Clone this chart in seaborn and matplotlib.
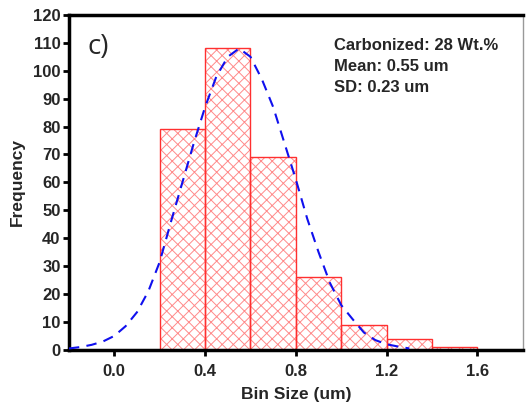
import matplotlib
matplotlib.use("Agg")
import matplotlib.pyplot as plt
import seaborn as sns
import numpy as np
import pandas as pd

# histogram data
bin_edges = [0.2, 0.4, 0.6, 0.8, 1.0, 1.2, 1.4, 1.6]
counts = [79, 108, 69, 26, 9, 4, 1]

# fitted curve
curve_x = [-0.2, -0.15, -0.1, -0.05, 0.0, 0.05, 0.1, 0.15, 0.2, 0.25, 0.3, 0.35,
           0.4, 0.45, 0.5, 0.55, 0.6, 0.65, 0.7, 0.75, 0.8, 0.85, 0.9, 0.95,
           1.0, 1.05, 1.1, 1.15, 1.2, 1.25, 1.3]
curve_y = [0.5, 1.0, 1.8, 3.0, 5.0, 8.5, 13.5, 21, 31.5, 46, 60, 74,
           87, 98, 105, 108, 105, 97, 87, 74, 61, 47, 35, 24,
           16, 11, 6.2, 3.5, 2.0, 1.2, 0.5]

info_lines = ["Carbonized: 28 Wt.%", "Mean: 0.55 um", "SD: 0.23 um"]

sns.set_style("white")
plt.rcParams['font.family'] = ['Liberation Sans', 'DejaVu Sans']
plt.rcParams['hatch.linewidth'] = 0.7

centers = [(a + b) / 2 for a, b in zip(bin_edges[:-1], bin_edges[1:])]
df = pd.DataFrame({"size": centers, "count": counts})
curve = pd.DataFrame({"x": curve_x, "y": curve_y})

fig = plt.figure(figsize=(5.26, 4.04), dpi=100)
ax = fig.add_axes([0.131, 0.134, 0.863, 0.829])

# hatched fill
sns.histplot(data=df, x="size", weights="count", bins=bin_edges, ax=ax,
             color="white", linewidth=0, alpha=1)
for p in ax.patches:
    p.set_hatch("xxx")
    p.set_facecolor("white")
    p.set_edgecolor("#ff8a8a")
    p.set_linewidth(0)

# red outline
sns.histplot(data=df, x="size", weights="count", bins=bin_edges, ax=ax,
             fill=False, color="#ff3030", linewidth=1.0)

sns.lineplot(data=curve, x="x", y="y", ax=ax, color="#1010ee",
             linewidth=1.5, zorder=5)
ax.lines[-1].set_linestyle((0, (5, 3.5)))

ax.set_xlim(-0.2, 1.8)
ax.set_ylim(0, 120)
ax.set_xticks([0.0, 0.4, 0.8, 1.2, 1.6])
ax.set_xticklabels(["0.0", "0.4", "0.8", "1.2", "1.6"])
ax.set_yticks(range(0, 121, 10))

for s in ["left", "bottom", "top"]:
    ax.spines[s].set_linewidth(2.5)
    ax.spines[s].set_color("black")
ax.spines["right"].set_linewidth(1.0)
ax.spines["right"].set_color("#999999")

ax.tick_params(axis="both", bottom=True, left=True, direction="out", length=4,
               width=2, color="black", labelsize=12, pad=2)
ax.tick_params(axis="x", pad=6)
for lab in ax.get_xticklabels() + ax.get_yticklabels():
    lab.set_fontweight("bold")

ax.set_xlabel("Bin Size (um)", fontsize=12.5, fontweight="bold", labelpad=6)
ax.set_ylabel("Frequency", fontsize=12.5, fontweight="bold", labelpad=6)

ax.text(0.042, 0.945, "c)", transform=ax.transAxes, fontsize=20,
        family="Open Sans", va="top", ha="left")
ax.text(0.585, 0.93, "\n".join(info_lines), transform=ax.transAxes,
        fontsize=12, fontweight="bold", va="top", ha="left", linespacing=1.5)

fig.savefig("out.png", dpi=100)
